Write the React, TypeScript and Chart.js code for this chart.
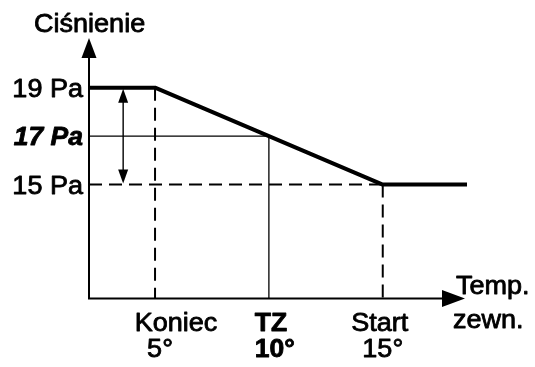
import { useEffect, useRef } from "react";
import { Chart, registerables } from "chart.js";

Chart.register(...registerables);

// ---- data ----
const yTitle = "Ciśnienie";
const xTitle = ["Temp.", "zewn."];
const pressureLevels = [19, 17, 15];
const pressureLabels = ["19 Pa", "17 Pa", "15 Pa"];
const tempPoints = [5, 10, 15];
const tempNames = ["Koniec", "TZ", "Start"];
const tempLabels = ["5°", "10°", "15°"];
const curveX = [2.1, 5, 15, 18.7];
const curveY = [19, 19, 15, 15];
const xMin = 2.1;
const xMax = 18.7;
const yMin = 10.3;
const yMax = 21.05;
const rangeArrowX = 3.6;

const FONT = '"Liberation Sans", Arial, sans-serif';

const pts = (xs: number[], ys: number[]) => xs.map((x, i) => ({ x, y: ys[i] }));

export default function App() {
  const ref = useRef<HTMLCanvasElement | null>(null);

  useEffect(() => {
    const canvas = ref.current;
    if (!canvas) return;

    const decor = {
      id: "decor",
      beforeDraw(chart: any) {
        const c = chart.ctx;
        c.save();
        c.fillStyle = "#fff";
        c.fillRect(0, 0, chart.width, chart.height);
        c.restore();
      },
      afterDatasetsDraw(chart: any) {
        const c = chart.ctx;
        const xs = chart.scales.x;
        const ys = chart.scales.y;
        const X = (v: number) => xs.getPixelForValue(v);
        const Y = (v: number) => ys.getPixelForValue(v);
        c.save();
        c.fillStyle = "#000";
        c.strokeStyle = "#000";

        const tri = (a: number[], b: number[], d: number[]) => {
          c.beginPath();
          c.moveTo(a[0], a[1]);
          c.lineTo(b[0], b[1]);
          c.lineTo(d[0], d[1]);
          c.closePath();
          c.fill();
        };

        // axes
        const ax = X(xMin);
        const ay = Y(yMin);
        const topY = Y(yMax);
        const rightX = X(xMax) - 2;
        c.lineWidth = 2;
        c.beginPath();
        c.moveTo(ax, topY + 10);
        c.lineTo(ax, ay);
        c.lineTo(rightX - 10, ay);
        c.stroke();
        tri([ax, topY], [ax - 7.5, topY + 20], [ax + 7.5, topY + 20]);
        tri([rightX, ay], [rightX - 23, ay - 8.5], [rightX - 23, ay + 8.5]);

        // range double arrow
        const rx = X(rangeArrowX);
        const r1 = Y(pressureLevels[0]);
        const r2 = Y(pressureLevels[2]);
        c.lineWidth = 1.4;
        c.beginPath();
        c.moveTo(rx, r1 + 8);
        c.lineTo(rx, r2 - 8);
        c.stroke();
        tri([rx, r1 + 1], [rx - 5, r1 + 15], [rx + 5, r1 + 15]);
        tri([rx, r2 - 1], [rx - 5, r2 - 15], [rx + 5, r2 - 15]);

        // texts (slightly widened and stroked to match the heavier reference rendering)
        const txt = (s: string, x: number, y: number, align: string) => {
          c.save();
          c.translate(x, y);
          c.scale(1.06, 1);
          c.textAlign = align;
          c.textBaseline = "alphabetic";
          c.lineWidth = 0.8;
          c.lineJoin = "round";
          c.fillText(s, 0, 0);
          c.strokeText(s, 0, 0);
          c.restore();
        };
        c.font = `25.5px ${FONT}`;
        txt(yTitle, ax - 55, topY - 6, "left");

        pressureLevels.forEach((p, i) => {
          c.font = i === 1 ? `italic bold 25px ${FONT}` : `25.5px ${FONT}`;
          txt(pressureLabels[i], ax - 6, Y(p) + 9, "right");
        });

        const nameOffsets = [21, 2, -3];
        const valOffsets = [5, 6, 0];
        tempPoints.forEach((t, i) => {
          c.font = i === 1 ? `bold 25px ${FONT}` : `25.5px ${FONT}`;
          txt(tempNames[i], X(t) + nameOffsets[i], ay + 32, "center");
          txt(tempLabels[i], X(t) + valOffsets[i], ay + 58, "center");
        });

        c.font = `25.5px ${FONT}`;
        txt(xTitle[0], rightX - 9, ay - 5, "left");
        txt(xTitle[1], rightX - 12, ay + 29, "left");
        c.restore();
      },
    };

    const chart = new Chart(canvas, {
      type: "line",
      data: {
        datasets: [
          {
            data: pts(curveX, curveY),
            borderColor: "#000",
            borderWidth: 4,
            pointRadius: 0,
            tension: 0,
            borderJoinStyle: "round",
          },
          {
            data: pts([xMin, tempPoints[2]], [pressureLevels[2], pressureLevels[2]]),
            borderColor: "#000",
            borderWidth: 2,
            borderDash: [13, 7],
            pointRadius: 0,
          },
          {
            data: pts([tempPoints[0], tempPoints[0]], [pressureLevels[0], yMin]),
            borderColor: "#000",
            borderWidth: 2,
            borderDash: [13, 7],
            pointRadius: 0,
          },
          {
            data: pts([tempPoints[2], tempPoints[2]], [pressureLevels[2], yMin]),
            borderColor: "#000",
            borderWidth: 2,
            borderDash: [13, 7],
            pointRadius: 0,
          },
          {
            data: pts([xMin, tempPoints[1], tempPoints[1]], [pressureLevels[1], pressureLevels[1], yMin]),
            borderColor: "#000",
            borderWidth: 1.3,
            pointRadius: 0,
          },
        ] as any,
      },
      options: {
        animation: false,
        responsive: false,
        events: [],
        layout: { padding: { left: 89, right: 68, top: 38, bottom: 68.5 } },
        plugins: { legend: { display: false }, tooltip: { enabled: false } },
        elements: { line: { borderCapStyle: "butt" } },
        scales: {
          x: { type: "linear", min: xMin, max: xMax, display: false },
          y: { type: "linear", min: yMin, max: yMax, display: false },
        },
      } as any,
      plugins: [decor],
    });

    return () => chart.destroy();
  }, []);

  return (
    <div style={{ position: "fixed", left: 0, top: 0, width: 535, height: 367, background: "#fff" }}>
      <canvas ref={ref} width={535} height={367} style={{ width: 535, height: 367, display: "block" }} />
    </div>
  );
}
